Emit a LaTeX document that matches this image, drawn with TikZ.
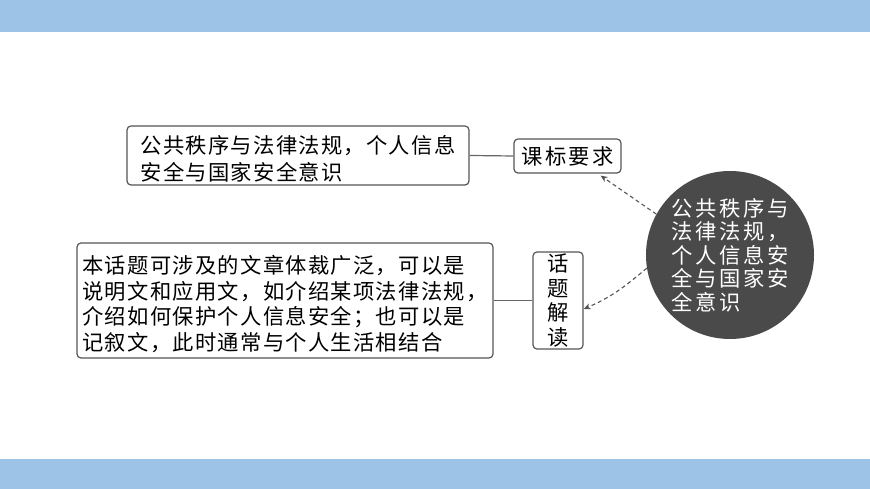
\documentclass[tikz,border=0pt]{standalone}
\usepackage{fontspec}
\setmainfont{Noto Sans CJK SC}[LetterSpace=6]
\usetikzlibrary{arrows.meta}
\definecolor{band}{HTML}{9DC3E6}
\definecolor{frame}{HTML}{555555}
\definecolor{disc}{HTML}{4A4A4A}
\newcommand{\topstrut}{\rule{0pt}{25pt}}
\begin{document}
\begin{tikzpicture}[x=1pt,y=1pt,
  box/.style={draw=frame, line width=1.2pt, rounded corners=4pt, fill=white, inner xsep=4pt, inner ysep=2pt, align=left, text=black},
  link/.style={draw=frame!90, line width=1.2pt},
  dasharrow/.style={draw=frame, line width=1.1pt, dash pattern=on 4pt off 3pt, -{Stealth[length=7pt,width=6pt]}}
]
\useasboundingbox (0,0) rectangle (870,489);
\fill[band] (0,457) rectangle (870,489);
\fill[band] (0,0) rectangle (870,30);

\node[box, minimum width=342pt, minimum height=59pt, font=\fontsize{21.3}{27}\selectfont] (req) at (298,333.5)
  {\topstrut 公共秩序与法律法规，个人信息\\安全与国家安全意识};
\node[box, minimum width=107pt, minimum height=34pt, inner xsep=2pt, align=center, font=\fontsize{21.3}{24}\selectfont\addfontfeature{LetterSpace=11}] (kb) at (567.5,333) {课标要求};
\node[box, minimum width=416pt, minimum height=115pt, font=\fontsize{21.3}{25.7}\selectfont] (desc) at (285,188.5)
  {\topstrut 本话题可涉及的文章体裁广泛，可以是\\说明文和应用文，如介绍某项法律法规，\\介绍如何保护个人信息安全；也可以是\\记叙文，此时通常与个人生活相结合};
\node[box, minimum width=50pt, minimum height=95pt, inner xsep=2pt, align=center, font=\fontsize{21.3}{24.5}\selectfont] (ht) at (558,188.5) {话\\题\\解\\读};
\node[circle, fill=disc, minimum size=168pt, inner sep=0pt, text=white, align=left, font=\fontsize{21.3}{23.5}\selectfont\addfontfeature{LetterSpace=12}] (core) at (730,234)
  {公共秩序与\\法律法规，\\个人信息安\\全与国家安\\全意识};

\draw[link] (req.east) -- (kb.west);
\draw[link] (desc.east) -- (ht.west);
\draw[dasharrow] (core.151) -- ([xshift=-21pt,yshift=-2pt]kb.south east);
\draw[dasharrow] (core.189) to[out=220,in=23] ([yshift=-8.5pt]ht.east);
\end{tikzpicture}
\end{document}
